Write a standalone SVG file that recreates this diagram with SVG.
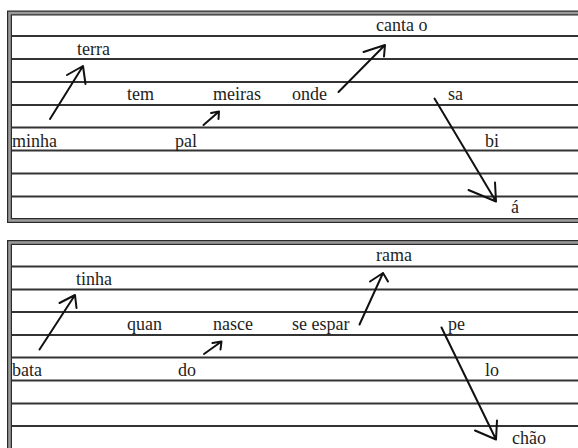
<svg xmlns="http://www.w3.org/2000/svg" width="578" height="448" viewBox="0 0 578 448">
<defs>
<style>
.frame-out{fill:none;stroke:#2a2a2a;stroke-width:5}
.frame-in{fill:none;stroke:#9a9a9a;stroke-width:2.6}
.rule{stroke:#333;stroke-width:2;fill:none}
.t{font-family:'Liberation Serif','DejaVu Serif',serif;font-size:18px;fill:#1e1e1e}
.ar{stroke:#111;stroke-width:2;fill:none;stroke-linecap:round;stroke-linejoin:round}
</style>
</defs>
<rect width="578" height="448" fill="#ffffff"/>
<g id="panel-top">
<rect class="frame-out" x="9.5" y="13" width="580" height="207.5"/>
<rect class="frame-in" x="9.5" y="13" width="580" height="207.5"/>
<g class="rule">
<line x1="12" y1="36" x2="578" y2="36"/>
<line x1="12" y1="59" x2="578" y2="59"/>
<line x1="12" y1="82" x2="578" y2="82"/>
<line x1="12" y1="105" x2="578" y2="105"/>
<line x1="12" y1="127.5" x2="578" y2="127.5"/>
<line x1="12" y1="150.5" x2="578" y2="150.5"/>
<line x1="12" y1="173.5" x2="578" y2="173.5"/>
<line x1="12" y1="196.5" x2="578" y2="196.5"/>
</g>
</g>
<g id="panel-bottom">
<rect class="frame-out" x="9.5" y="242.5" width="580" height="220"/>
<rect class="frame-in" x="9.5" y="242.5" width="580" height="220"/>
<g class="rule">
<line x1="12" y1="266.5" x2="578" y2="266.5"/>
<line x1="12" y1="289.5" x2="578" y2="289.5"/>
<line x1="12" y1="312" x2="578" y2="312"/>
<line x1="12" y1="335" x2="578" y2="335"/>
<line x1="12" y1="357.5" x2="578" y2="357.5"/>
<line x1="12" y1="380.5" x2="578" y2="380.5"/>
<line x1="12" y1="403.5" x2="578" y2="403.5"/>
<line x1="12" y1="426" x2="578" y2="426"/>
</g>
</g>
<g id="words-top" font-family="Liberation Serif, DejaVu Serif, serif">
<text id="w-canta" class="t" x="376" y="31">canta o</text>
<text id="w-terra" class="t" x="77" y="55">terra</text>
<text id="w-tem" class="t" x="127" y="100">tem</text>
<text id="w-meiras" class="t" x="213" y="100">meiras</text>
<text id="w-onde" class="t" x="292" y="100">onde</text>
<text id="w-sa" class="t" x="448" y="100">sa</text>
<text id="w-minha" class="t" x="12" y="146.5">minha</text>
<text id="w-pal" class="t" x="175" y="146.5">pal</text>
<text id="w-bi" class="t" x="485" y="146.5">bi</text>
<text id="w-a" class="t" x="511" y="213">á</text>
</g>
<g id="words-bottom" font-family="Liberation Serif, DejaVu Serif, serif">
<text id="w-rama" class="t" x="376" y="261">rama</text>
<text id="w-tinha" class="t" x="76" y="284.5">tinha</text>
<text id="w-quan" class="t" x="127" y="330">quan</text>
<text id="w-nasce" class="t" x="213" y="330">nasce</text>
<text id="w-seespar" class="t" x="292" y="330">se espar</text>
<text id="w-pe" class="t" x="448" y="330">pe</text>
<text id="w-bata" class="t" x="12" y="376">bata</text>
<text id="w-do" class="t" x="178" y="376">do</text>
<text id="w-lo" class="t" x="485" y="376">lo</text>
<text id="w-chao" class="t" x="512" y="444">chão</text>
</g>
<g id="connectors" class="ar">
<path d="M50,119 L83,66 M67,75 L83,66 L85.5,84"/>
<path d="M203.5,125 L219,111.5 M211,113 L219,111.5 L218.5,119"/>
<path d="M338.5,92 L385,45 M363.5,52 L385,45 L384,56.5"/>
<path d="M434.5,98.5 L496,201.5 M468.5,190 L496,201.5 L495,182.5"/>
<path d="M39.5,349.5 L75,295 M59.5,303 L75,295 L76.5,308"/>
<path d="M204,354 L221.5,341.5 M212.5,343 L221.5,341.5 L220.5,349.5"/>
<path d="M359.5,324.5 L383,273 M370,281.5 L383,273 L388,281.5"/>
<path d="M441.5,327.5 L496,439.5 M475,430.5 L496,439.5 L497,420.5"/>
</g>
</svg>
